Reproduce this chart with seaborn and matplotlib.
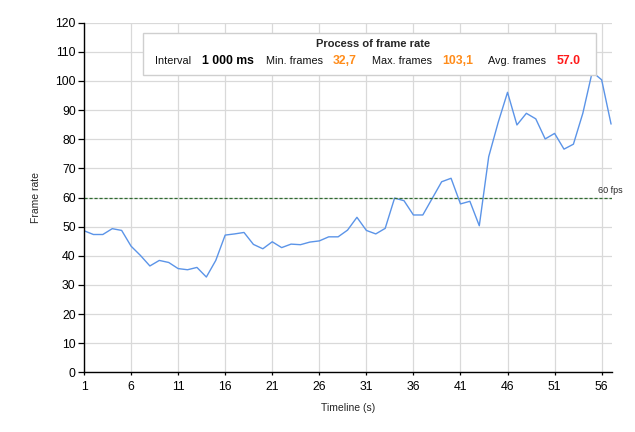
import numpy as np
import pandas as pd
import matplotlib
matplotlib.use("Agg")
import matplotlib.pyplot as plt
from matplotlib.patches import Rectangle
import seaborn as sns

# frame rate per second
seconds = list(range(1, 58))
fps = [48.6, 47.3, 47.3, 49.3, 48.7, 43.3, 40.1, 36.5, 38.4, 37.7,
       35.6, 35.2, 36.0, 32.7, 38.4, 47.1, 47.5, 48.0, 43.9, 42.4,
       44.8, 42.8, 44.0, 43.8, 44.7, 45.1, 46.5, 46.5, 48.8, 53.2,
       48.7, 47.5, 49.4, 59.8, 58.9, 54.0, 54.0, 59.7, 65.4, 66.6,
       57.8, 58.7, 50.3, 74.0, 85.7, 96.1, 84.9, 88.9, 87.0, 80.1,
       82.0, 76.6, 78.3, 88.9, 103.1, 100.4, 85.2]
x_ticks = [1, 6, 11, 16, 21, 26, 31, 36, 41, 46, 51, 56]
y_ticks = list(range(0, 121, 10))
target_fps = 60

stat_labels = ["Interval", "Min. frames", "Max. frames", "Avg. frames"]
stat_values = ["1 000 ms", "32,7", "103,1", "57.0"]
stat_colors = ["#000000", "#ff8c1a", "#ff8c1a", "#ff1a1a"]

df = pd.DataFrame({"Timeline (s)": seconds, "Frame rate": fps})

sns.set_style("white")
plt.rcParams["font.family"] = ["Liberation Sans", "DejaVu Sans"]

W, H = 635, 432
fig = plt.figure(figsize=(W / 100, H / 100), dpi=100)
ax = fig.add_axes([84 / W, 1 - 372.3 / H, (612 - 84) / W, (372.3 - 22.7) / H])

sns.lineplot(data=df, x="Timeline (s)", y="Frame rate", ax=ax,
             color="#5b94e8", linewidth=1.0)
ax.axhline(target_fps, color="#2f6b2f", linestyle=(0, (2.5, 1.5)), linewidth=0.9)
ax.annotate("60 fps", xy=(57, target_fps), xytext=(8, 2), textcoords="offset points",
            ha="right", va="bottom", fontsize=6.5)

ax.set_xlim(1, 57.1)
ax.set_ylim(0, 120)
ax.set_xticks(x_ticks)
ax.set_yticks(y_ticks)
ax.grid(True, color="#d9d9d9", linewidth=0.9)
ax.set_axisbelow(True)
for s in ["top", "right"]:
    ax.spines[s].set_visible(False)
for s in ["left", "bottom"]:
    ax.spines[s].set_color("black")
    ax.spines[s].set_linewidth(1.0)
ax.tick_params(axis="y", which="major", left=True, length=4.5, width=0.9,
               pad=1.5, labelsize=8.8, colors="black")
ax.tick_params(axis="x", which="major", bottom=True, length=2.5, width=0.9,
               pad=4, labelsize=8.8, colors="black")
ax.set_xlabel("Timeline (s)", fontsize=7.5, labelpad=7)
ax.set_ylabel("Frame rate", fontsize=7.5, labelpad=10)

# header box with the stats
def fx(px):
    return px / W

def fy(py):
    return 1 - py / H

fig.patches.append(Rectangle((fx(143), fy(75)), fx(596) - fx(143), fy(33) - fy(75),
                             transform=fig.transFigure, facecolor="white",
                             edgecolor="#cfcfcf", linewidth=1.0, zorder=2))
fig.text(fx(373), fy(44), "Process of frame rate", ha="center", va="center",
         fontsize=8, fontweight="bold", zorder=4)

label_x = [155.5, 266.5, 372, 488]
value_x = [201.5, 333, 442.5, 556.5]
for lab, val, col, lx, vx in zip(stat_labels, stat_values, stat_colors, label_x, value_x):
    fig.text(fx(lx), fy(61.5), lab, ha="left", va="center", fontsize=7.8,
             color="#111111", zorder=4)
    fig.text(fx(vx), fy(61.5), val, ha="left", va="center", fontsize=8.8,
             fontweight="bold", color=col, zorder=4)

plt.savefig("out.png", dpi=100)
